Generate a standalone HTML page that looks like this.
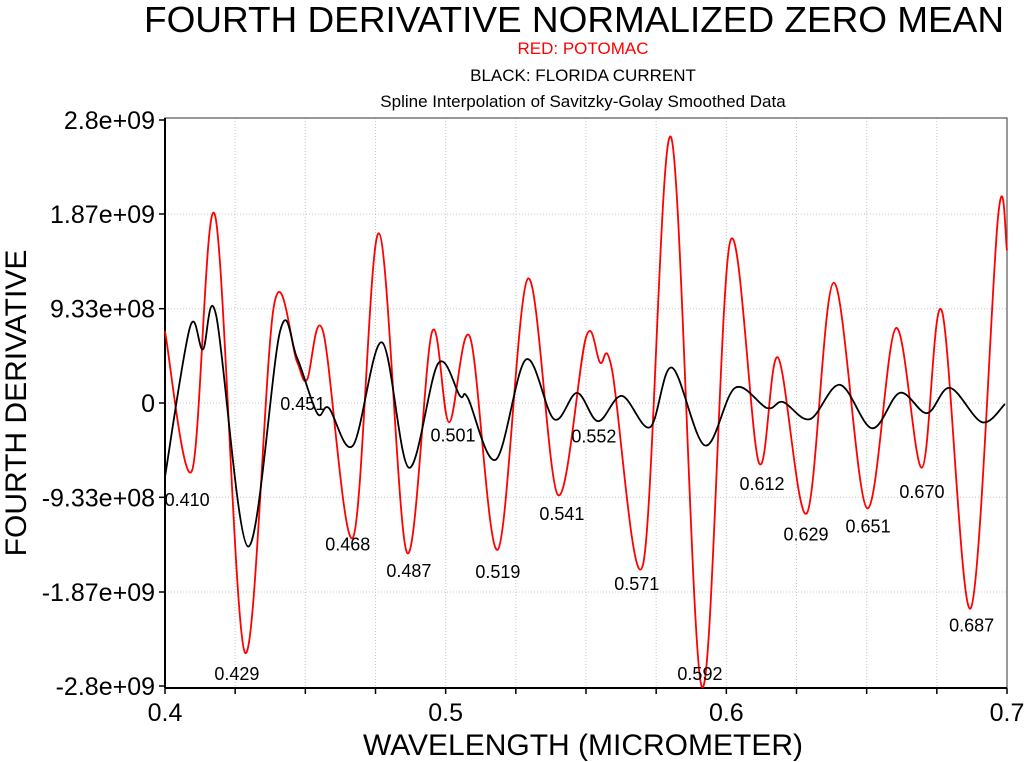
<!DOCTYPE html>
<html><head><meta charset="utf-8">
<style>
body{margin:0;background:#fff;}
svg{display:block;font-family:"Liberation Sans",sans-serif;}
</style></head>
<body>
<svg id="chart" width="1024" height="762">
<text x="574" y="32" font-size="36" text-anchor="middle" textLength="860" lengthAdjust="spacingAndGlyphs">FOURTH DERIVATIVE NORMALIZED ZERO MEAN</text>
<text x="583" y="54" font-size="17" fill="#ff0000" text-anchor="middle">RED: POTOMAC</text>
<text x="583" y="81" font-size="17" text-anchor="middle">BLACK: FLORIDA CURRENT</text>
<text x="583" y="107" font-size="17" text-anchor="middle">Spline Interpolation of Savitzky-Golay Smoothed Data</text>
<text x="583" y="755" font-size="30" text-anchor="middle">WAVELENGTH (MICROMETER)</text>
<text transform="translate(26,403) rotate(-90)" font-size="30" text-anchor="middle">FOURTH DERIVATIVE</text>
<g id="grid"></g>
<g id="axes"></g>
<g id="series"></g>
<g id="labels"></g>
</svg>
<script>
const xTicks=[0.4,0.5,0.6,0.7];
const xTickLabels=["0.4","0.5","0.6","0.7"];
const yTicks=[2.8,1.87,0.933,0,-0.933,-1.87,-2.8];
const yTickLabels=["2.8e+09","1.87e+09","9.33e+08","0","-9.33e+08","-1.87e+09","-2.8e+09"];
const redX=[0.4,0.4096,0.4178,0.4285,0.4388,0.447,0.4506,0.4563,0.467,0.4762,0.4862,0.4951,0.5012,0.5087,0.5186,0.5293,0.54,0.55,0.555,0.5592,0.5703,0.5803,0.5913,0.6013,0.6116,0.6184,0.6287,0.6383,0.6501,0.6604,0.6697,0.6768,0.6871,0.6968,0.7];
const redY=[0.71,-0.67,1.86,-2.47,0.96,0.41,0.23,0.71,-1.33,1.68,-1.48,0.7,-0.19,0.65,-1.45,1.23,-0.91,0.65,0.4,0.34,-1.6,2.63,-2.81,1.59,-0.59,0.45,-1.09,1.19,-1.04,0.74,-0.64,0.91,-2.03,1.84,1.51];
const blackX=[0.4,0.4089,0.4135,0.4182,0.4296,0.441,0.447,0.4542,0.4584,0.467,0.4773,0.4869,0.4973,0.5051,0.5079,0.5179,0.5286,0.5386,0.5468,0.5543,0.5628,0.5728,0.5806,0.5924,0.6031,0.6145,0.6202,0.6298,0.6405,0.6519,0.6618,0.6715,0.6797,0.6911,0.6993];
const blackY=[-0.73,0.75,0.53,0.87,-1.42,0.71,0.45,-0.1,-0.05,-0.42,0.6,-0.64,0.39,0.07,0.05,-0.56,0.43,-0.16,0.1,-0.18,0.07,-0.24,0.35,-0.42,0.15,-0.05,0.01,-0.16,0.18,-0.25,0.1,-0.1,0.15,-0.19,-0.01];
const labelText=["0.410","0.429","0.451","0.468","0.487","0.501","0.519","0.541","0.552","0.571","0.592","0.612","0.629","0.651","0.670","0.687"];
const labelX=[0.4079,0.4256,0.4491,0.4651,0.4869,0.5026,0.5186,0.5414,0.5528,0.5681,0.5906,0.6127,0.6284,0.6505,0.6697,0.6874];
const labelY=[-0.96,-2.68,-0.01,-1.4,-1.66,-0.32,-1.67,-1.1,-0.33,-1.79,-2.68,-0.8,-1.3,-1.22,-0.88,-2.2];

const X0=165,X1=1007,Y0=686,Y1=120;
const sx=v=>X0+(v-0.4)/(0.3)*(X1-X0);
const sy=v=>403-(v/2.8)*(403-Y1);
const NS="http://www.w3.org/2000/svg";
function mk(tag,attrs,parent){const e=document.createElementNS(NS,tag);for(const k in attrs)e.setAttribute(k,attrs[k]);parent.appendChild(e);return e;}
const grid=document.getElementById('grid'),axes=document.getElementById('axes'),series=document.getElementById('series'),labels=document.getElementById('labels');
for(let i=0;i<=12;i++){const v=0.4+i*0.025;const x=sx(v);
 if(i>0&&i<12){const l=mk('line',{x1:x,x2:x,y1:Y1-2,y2:Y0,stroke:'#c8c8c8','stroke-dasharray':'1,2'},grid);
 
 }
 const t=mk('line',{x1:x,x2:x,y1:Y0+2,y2:Y0+8,stroke:'#000','stroke-width':1.5},axes);
 
 }
yTicks.forEach((v,i)=>{const y=sy(v);
 if(i>0&&i<yTicks.length-1){const l=mk('line',{x1:X0,x2:X1,y1:y,y2:y,stroke:'#c8c8c8','stroke-dasharray':'1,2'},grid);
 
 }
 mk('line',{x1:X0-6,x2:X0,y1:y,y2:y,stroke:'#000','stroke-width':1.5},axes);
 const t=mk('text',{x:X0-10,y:y+9,'font-size':25,'text-anchor':'end'},axes);t.textContent=yTickLabels[i];
 
 });
xTicks.forEach((v,i)=>{const t=mk('text',{x:sx(v),y:721,'font-size':25,'text-anchor':'middle'},axes);t.textContent=xTickLabels[i];
 
 });
const frame=mk('rect',{x:X0,y:Y1-2,width:X1-X0,height:Y0+2-(Y1-2),fill:'none',stroke:'#555','stroke-width':1.2},axes);


mk('line',{x1:X0,x2:X1,y1:Y0+2,y2:Y0+2,stroke:'#000','stroke-width':2},axes);
mk('line',{x1:X0,x2:X0,y1:Y1-2,y2:Y0+2,stroke:'#000','stroke-width':2},axes);
function spline(xs,ys){const P=xs.map((x,i)=>[sx(x),sy(ys[i])]);let d='M'+P[0][0]+','+P[0][1];
 for(let i=0;i<P.length-1;i++){const p0=P[i-1]||P[i],p1=P[i],p2=P[i+1],p3=P[i+2]||P[i+1];
  const c1=[p1[0]+(p2[0]-p0[0])/6,p1[1]+(p2[1]-p0[1])/6],c2=[p2[0]-(p3[0]-p1[0])/6,p2[1]-(p3[1]-p1[1])/6];
  d+=`C${c1[0]},${c1[1]} ${c2[0]},${c2[1]} ${p2[0]},${p2[1]}`;}return d;}
const rp=mk('path',{d:spline(redX,redY),fill:'none',stroke:'#ff0000','stroke-width':1.8},series);


const bp=mk('path',{d:spline(blackX,blackY),fill:'none',stroke:'#000','stroke-width':1.8},series);


labelText.forEach((s,i)=>{const t=mk('text',{x:sx(labelX[i]),y:sy(labelY[i])+6,'font-size':18,'text-anchor':'middle'},labels);t.textContent=s;
 
 });
</script>
</body></html>
